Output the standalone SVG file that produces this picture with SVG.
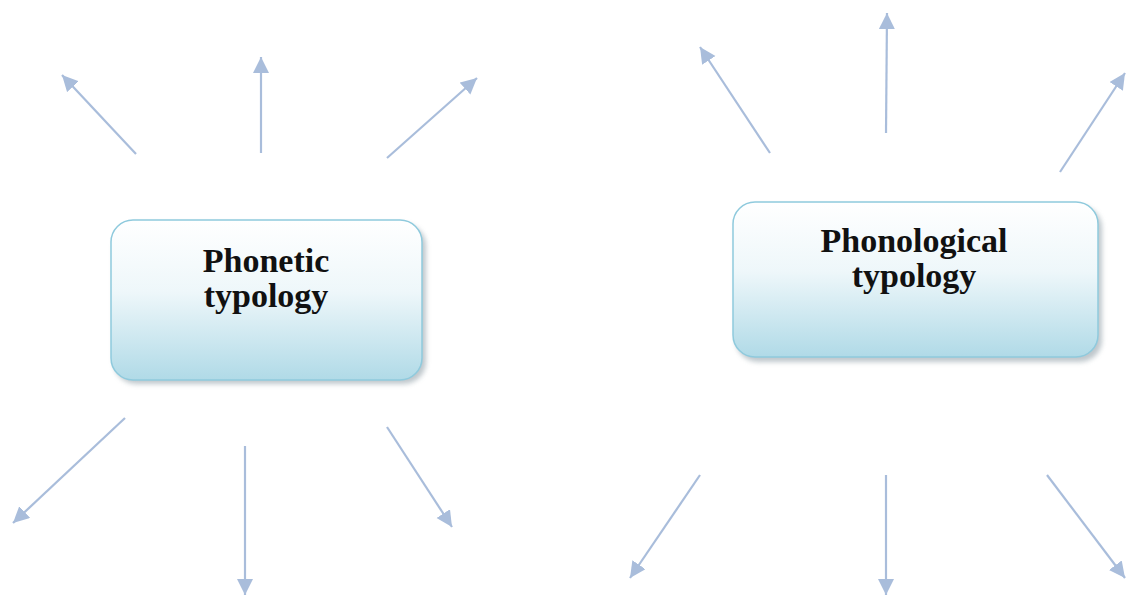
<svg xmlns="http://www.w3.org/2000/svg" width="1128" height="599" viewBox="0 0 1128 599">
  <style>
    .box { fill: url(#boxFill); stroke: #8fcadd; stroke-width: 1.5; }
    .shadow { fill: #8a9aa3; opacity: 0.55; filter: url(#soft); }
    .label { font-family: "Liberation Serif", "DejaVu Serif", serif; font-weight: bold; font-size: 34px; fill: #111111; text-anchor: middle; }
    .link { stroke: #a9bddb; stroke-width: 2.2; fill: none; marker-end: url(#head); }
  </style>
  <defs>
    <linearGradient id="boxFill" x1="0" y1="0" x2="0" y2="1">
      <stop offset="0" stop-color="#ffffff"/>
      <stop offset="0.45" stop-color="#eef7fa"/>
      <stop offset="1" stop-color="#b0dae7"/>
    </linearGradient>
    <filter id="soft" x="-10%" y="-10%" width="120%" height="130%">
      <feGaussianBlur stdDeviation="2.5"/>
    </filter>
    <marker id="head" markerUnits="userSpaceOnUse" markerWidth="18" markerHeight="18" refX="16" refY="8" orient="auto">
      <path d="M0,0 L16,8 L0,16 Z" fill="#a9bddb"/>
    </marker>
  </defs>

  <!-- arrows radiating from both boxes -->
  <g id="connectors">
    <line class="link" x1="136" y1="154" x2="62" y2="75"/>
    <line class="link" x1="261" y1="153" x2="261" y2="57"/>
    <line class="link" x1="387" y1="158" x2="477" y2="78"/>
    <line class="link" x1="125" y1="418" x2="13" y2="523"/>
    <line class="link" x1="245" y1="446" x2="245" y2="595"/>
    <line class="link" x1="387" y1="427" x2="452" y2="527"/>

    <line class="link" x1="770" y1="153" x2="700" y2="47"/>
    <line class="link" x1="886" y1="133" x2="887" y2="13"/>
    <line class="link" x1="1060" y1="172" x2="1125" y2="73"/>
    <line class="link" x1="700" y1="475" x2="630" y2="578"/>
    <line class="link" x1="886" y1="475" x2="886" y2="595"/>
    <line class="link" x1="1047" y1="475" x2="1125" y2="578"/>
  </g>

  <g id="phonetic">
    <rect class="shadow" x="114" y="224" width="312" height="160" rx="22"/>
    <rect class="box" x="111" y="220" width="311" height="160" rx="22"/>
    <text class="label" x="266" y="272">Phonetic</text>
    <text class="label" x="266" y="307">typology</text>
  </g>

  <g id="phonological">
    <rect class="shadow" x="736" y="206" width="366" height="156" rx="22"/>
    <rect class="box" x="733" y="202" width="365" height="155" rx="22"/>
    <text class="label" x="914" y="252">Phonological</text>
    <text class="label" x="914" y="287">typology</text>
  </g>
</svg>
